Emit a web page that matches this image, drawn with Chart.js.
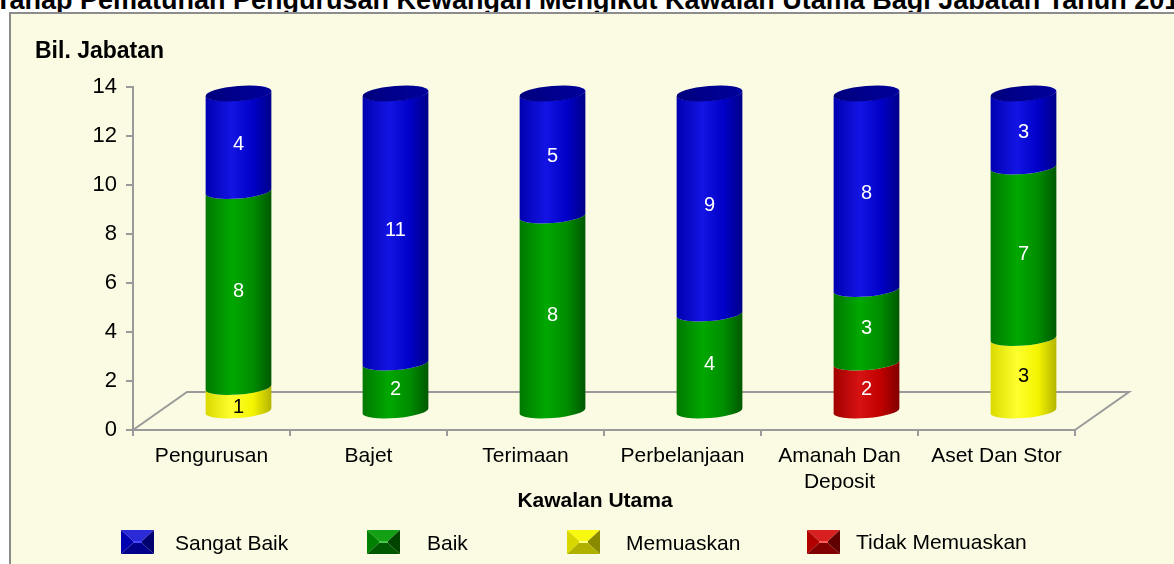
<!DOCTYPE html>
<html>
<head>
<meta charset="utf-8">
<script src="https://cdn.jsdelivr.net/npm/chart.js@4.4.1/dist/chart.umd.min.js"></script>
<style>
  html, body { margin:0; padding:0; }
  body { width:1174px; height:564px; overflow:hidden; background:#fff; position:relative; font-family:'Liberation Sans', Arial, sans-serif; }
  #title { position:absolute; left:-5px; top:-13px; line-height:26px; white-space:nowrap; font-weight:bold; font-size:27px; color:#000; }
  #box { position:absolute; left:9px; top:12px; width:1180px; height:580px; background:#FBFAE2; border:2px solid #8c8c8c; }
  #c { position:absolute; left:0; top:0; }
</style>
</head>
<body>
<div id="title">Tahap Pematuhan Pengurusan Kewangan Mengikut Kawalan Utama Bagi Jabatan Tahun 201</div>
<div id="box"></div>
<canvas id="c" width="1174" height="564"></canvas>
<script>
// ---- data ----
const categories = ['Pengurusan', 'Bajet', 'Terimaan', 'Perbelanjaan', ['Amanah Dan', 'Deposit'], 'Aset Dan Stor'];
const seriesNames = ['Sangat Baik', 'Baik', 'Memuaskan', 'Tidak Memuaskan'];
const sangatBaik = [4, 11, 5, 9, 8, 3];
const baik = [8, 2, 8, 4, 3, 7];
const memuaskan = [1, 0, 0, 0, 0, 3];
const tidakMemuaskan = [0, 0, 0, 0, 2, 0];
const yMin = 0, yMax = 14, yStep = 2;
const yAxisTitle = 'Bil. Jabatan';
const xAxisTitle = 'Kawalan Utama';

// ---- styles ----
const palette = {
  'Sangat Baik':     { stops: ['#0000B0', '#1414E4', '#0000C8', '#000088'], cap: ['#00007E', '#00009C'], text: '#fff', icon: ['#2a2ad8', '#0000b0', '#000070', '#4848ff', '#00008a'] },
  'Baik':            { stops: ['#007800', '#00A800', '#008C00', '#005800'], cap: ['#006400', '#008400'], text: '#fff', icon: ['#14a014', '#008000', '#004400', '#48c848', '#005800'] },
  'Memuaskan':       { stops: ['#DADA00', '#FFFF30', '#F4F400', '#B4B400'], cap: ['#D0D000', '#EEEE00'], text: '#000', icon: ['#f8f810', '#d8d800', '#8a8a00', '#ffff80', '#b0b000'] },
  'Tidak Memuaskan': { stops: ['#A00000', '#D81212', '#C00000', '#800000'], cap: ['#900000', '#B00000'], text: '#fff', icon: ['#d82020', '#b00000', '#600000', '#ff5a5a', '#800000'] }
};
const DX = 27, DY = -18;      // cylinder depth offset (half of floor depth)
const FDX = 54, FDY = -38;    // floor depth
const RY = 7, TILT = -0.08;
const FONT = "'Liberation Sans', Arial, sans-serif";

const floorPlugin = {
  id: 'floor',
  beforeDatasetsDraw(chart) {
    const ctx = chart.ctx, a = chart.chartArea, y0 = chart.scales.y.getPixelForValue(0);
    ctx.save();
    ctx.strokeStyle = '#9a9a9a';
    ctx.lineWidth = 2;
    ctx.beginPath();
    ctx.moveTo(a.left, y0);
    ctx.lineTo(a.left + FDX, y0 + FDY);
    ctx.lineTo(a.right + FDX, y0 + FDY);
    ctx.lineTo(a.right, y0);
    ctx.stroke();
    ctx.restore();
  }
};

const cylinderPlugin = {
  id: 'cylinders',
  afterDatasetsDraw(chart) {
    const ctx = chart.ctx;
    const n = chart.data.labels.length;
    ctx.save();
    for (let i = 0; i < n; i++) {
      const segs = [];
      chart.data.datasets.forEach((ds, di) => {
        const v = ds.data[i];
        if (!v) return;
        const el = chart.getDatasetMeta(di).data[i];
        const p = el.getProps(['x', 'y', 'base', 'width'], true);
        segs.push({ name: ds.label, v, cx: p.x + DX, yt: p.y + DY, yb: p.base + DY, r: p.width / 2 });
      });
      segs.forEach((s, k) => {
        const pal = palette[s.name];
        const g = ctx.createLinearGradient(s.cx - s.r, 0, s.cx + s.r, 0);
        g.addColorStop(0, pal.stops[0]);
        g.addColorStop(0.4, pal.stops[1]);
        g.addColorStop(0.72, pal.stops[2]);
        g.addColorStop(1, pal.stops[3]);
        ctx.beginPath();
        ctx.ellipse(s.cx, s.yb, s.r, RY, TILT, Math.PI, 0, true);
        ctx.ellipse(s.cx, s.yt, s.r, RY, TILT, 0, Math.PI, false);
        ctx.closePath();
        ctx.fillStyle = g;
        ctx.fill();
        if (k === segs.length - 1) {
          const gc = ctx.createLinearGradient(s.cx - s.r, 0, s.cx + s.r, 0);
          gc.addColorStop(0, pal.cap[0]);
          gc.addColorStop(1, pal.cap[1]);
          ctx.beginPath();
          ctx.ellipse(s.cx, s.yt, s.r, RY + 0.5, TILT, 0, Math.PI * 2);
          ctx.fillStyle = gc;
          ctx.fill();
        }
      });
      segs.forEach(s => {
        const pal = palette[s.name];
        ctx.fillStyle = pal.text;
        ctx.font = '20px ' + FONT;
        ctx.textAlign = 'center';
        ctx.textBaseline = 'middle';
        let ty = (s.yt + s.yb) / 2 + 2;
        if (s.v === 1) ty += 6;
        ctx.fillText(String(s.v), s.cx, ty);
      });
    }
    ctx.restore();
  }
};

const textPlugin = {
  id: 'texts',
  afterDraw(chart) {
    const ctx = chart.ctx;
    ctx.save();
    ctx.fillStyle = '#000';
    ctx.textBaseline = 'middle';
    ctx.font = 'bold 23px ' + FONT;
    ctx.textAlign = 'left';
    ctx.fillText(yAxisTitle, 35, 52);
    ctx.font = 'bold 21px ' + FONT;
    ctx.textAlign = 'center';
    ctx.fillText(xAxisTitle, 595, 501);
    // legend
    const items = [
      { name: seriesNames[0], ix: 121, tx: 175, cy: 542 },
      { name: seriesNames[1], ix: 367, tx: 427, cy: 542 },
      { name: seriesNames[2], ix: 567, tx: 626, cy: 542 },
      { name: seriesNames[3], ix: 807, tx: 856, cy: 541 }
    ];
    items.forEach(it => {
      const c = palette[it.name].icon;
      const x = it.ix, y = 530, w = 33, h = 24;
      const ix1 = x + 12, ix2 = x + w - 12, iy1 = y + 11, iy2 = y + 13;
      const poly = (pts, col) => { ctx.beginPath(); ctx.moveTo(pts[0][0], pts[0][1]); for (let q = 1; q < pts.length; q++) ctx.lineTo(pts[q][0], pts[q][1]); ctx.closePath(); ctx.fillStyle = col; ctx.fill(); };
      poly([[x, y], [x + w, y], [ix2, iy1], [ix1, iy1]], c[0]);
      poly([[x, y], [ix1, iy1], [ix1, iy2], [x, y + h]], c[1]);
      poly([[x + w, y], [x + w, y + h], [ix2, iy2], [ix2, iy1]], c[2]);
      poly([[x, y + h], [ix1, iy2], [ix2, iy2], [x + w, y + h]], c[4]);
      poly([[ix1, iy1], [ix2, iy1], [ix2, iy2], [ix1, iy2]], c[3]);
      ctx.fillStyle = '#000';
      ctx.font = '21px ' + FONT;
      ctx.textAlign = 'left';
      ctx.fillText(it.name, it.tx, it.cy + 2);
    });
    ctx.restore();
  }
};

const mk = (label, data) => ({ label, data, backgroundColor: 'rgba(0,0,0,0)', borderWidth: 0, barPercentage: 0.42, categoryPercentage: 1.0 });

new Chart(document.getElementById('c'), {
  type: 'bar',
  data: {
    labels: categories,
    datasets: [
      mk(seriesNames[2], memuaskan),
      mk(seriesNames[3], tidakMemuaskan),
      mk(seriesNames[1], baik),
      mk(seriesNames[0], sangatBaik)
    ]
  },
  options: {
    responsive: false,
    animation: false,
    events: [],
    layout: { padding: { left: 73, top: 87, right: 99, bottom: 74 } },
    plugins: { legend: { display: false }, tooltip: { enabled: false }, title: { display: false } },
    scales: {
      x: {
        stacked: true,
        afterFit: s => { s.height = 60; },
        grid: { drawOnChartArea: false, offset: true, color: '#9a9a9a', lineWidth: 2, tickLength: 6 },
        border: { color: '#9a9a9a', width: 2 },
        ticks: { color: '#000', font: { size: 21, family: FONT }, padding: 8, maxRotation: 0, autoSkip: false }
      },
      y: {
        stacked: true,
        min: yMin, max: yMax,
        afterFit: s => { s.width = 60; },
        grid: { drawOnChartArea: false, color: '#9a9a9a', lineWidth: 2, tickLength: 7 },
        border: { color: '#9a9a9a', width: 2 },
        ticks: { stepSize: yStep, color: '#000', font: { size: 22, family: FONT }, padding: 9 }
      }
    }
  },
  plugins: [floorPlugin, cylinderPlugin, textPlugin]
});
</script>
</body>
</html>
